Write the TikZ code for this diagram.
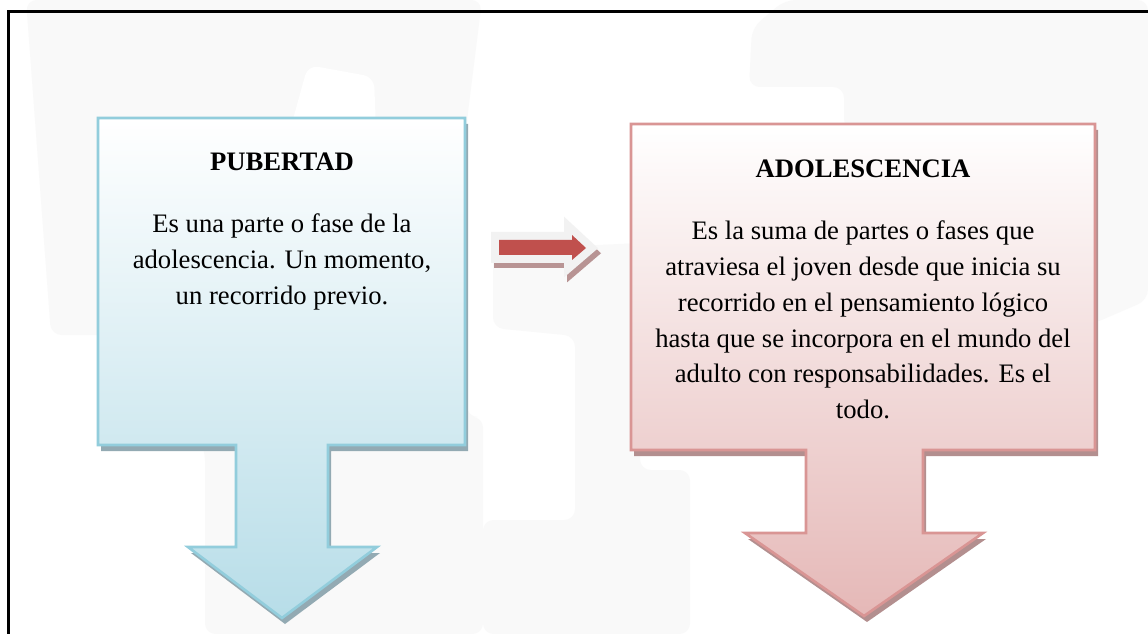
\documentclass[tikz,border=0pt]{standalone}
\usepackage{fontspec}
\setmainfont{Liberation Serif}
\definecolor{publine}{HTML}{92CDDC}
\definecolor{pubfill}{HTML}{B7DDE8}
\definecolor{pubshadow}{HTML}{93AAB3}
\definecolor{adoline}{HTML}{D99594}
\definecolor{adofill}{HTML}{E5B8B7}
\definecolor{adoshadow}{HTML}{B38F8F}
\definecolor{arrowred}{HTML}{C0504D}
\definecolor{arrowrim}{HTML}{F2F2F2}
\definecolor{arrowshadow}{HTML}{B89494}
\definecolor{wmark}{HTML}{F9F9F9}
\newcommand{\pubshape}[1]{\path[#1] (98,118) -- (465,118) -- (465,445) -- (328,445) -- (328,547) -- (377,547) -- (282,618) -- (188,547) -- (236,547) -- (236,445) -- (98,445) -- cycle;}
\newcommand{\adoshape}[1]{\path[#1] (631,124) -- (1095,124) -- (1095,450) -- (923,450) -- (923,533) -- (983,533) -- (864,616) -- (745,533) -- (806,533) -- (806,450) -- (631,450) -- cycle;}
\newcommand{\midshape}[1]{\path[#1] (499,240) -- (572,240) -- (572,235) -- (586,248) -- (572,260) -- (572,255) -- (499,255) -- cycle;}
\tikzset{
  heading/.style={font=\fontsize{20}{24}\selectfont\bfseries, inner sep=0pt},
  bodytext/.style={font=\fontsize{20}{26.8}\selectfont, align=center, inner sep=0pt},
  wm/.style={fill=wmark, rounded corners=8pt},
}
\begin{document}
\begin{tikzpicture}[x=0.75pt,y=-0.75pt]
\useasboundingbox (0,0) rectangle (1148,634);
\fill[white] (0,0) rectangle (1148,634);
\fill[wm] (26,0) -- (482,0) -- (467,120) -- (467,417) -- (483,417) -- (483,634) -- (205,634) -- (205,450) -- (150,335) -- (51,335) -- cycle;
\fill[white, rounded corners=8pt] (308,65) -- (374,77) -- (376,130) -- (290,130) -- cycle;
\fill[wm] (493,250) -- (640,243) -- (640,470) -- (690,470) -- (690,634) -- (483,634) -- (483,520) -- (575,520) -- (575,336) -- (493,328) -- cycle;
\fill[wm] (785,0) -- (1148,0) -- (1148,300) -- (1090,325) -- (1090,130) -- (844,130) -- (844,87) -- (749,87) -- (752,28) -- cycle;
\draw[line width=2.25pt] (8,634) -- (8,12) -- (1148,12);
\pubshape{fill=pubshadow, shift={(3,6)}}
\pubshape{draw=publine, line width=2pt, top color=white, bottom color=pubfill}
\adoshape{fill=adoshadow, shift={(3,6)}}
\adoshape{draw=adoline, line width=2pt, top color=white, bottom color=adofill}
\midshape{fill=arrowshadow, draw=arrowshadow, line width=12pt, miter limit=10, shift={(3,5)}}
\midshape{fill=arrowrim, draw=arrowrim, line width=12pt, miter limit=10}
\midshape{fill=arrowred}
\node[heading] (pubtitle) at (282,162) {PUBERTAD};
\node[bodytext] (pubtext) at (282,262) {Es una parte o fase de la\\adolescencia. Un momento,\\un recorrido previo.};
\node[heading] (adotitle) at (863,169) {ADOLESCENCIA};
\node[bodytext] (adotext) at (863,320) {Es la suma de partes o fases que\\atraviesa el joven desde que inicia su\\recorrido en el pensamiento lógico\\hasta que se incorpora en el mundo del\\adulto con responsabilidades. Es el\\todo.};
\end{tikzpicture}
\end{document}
